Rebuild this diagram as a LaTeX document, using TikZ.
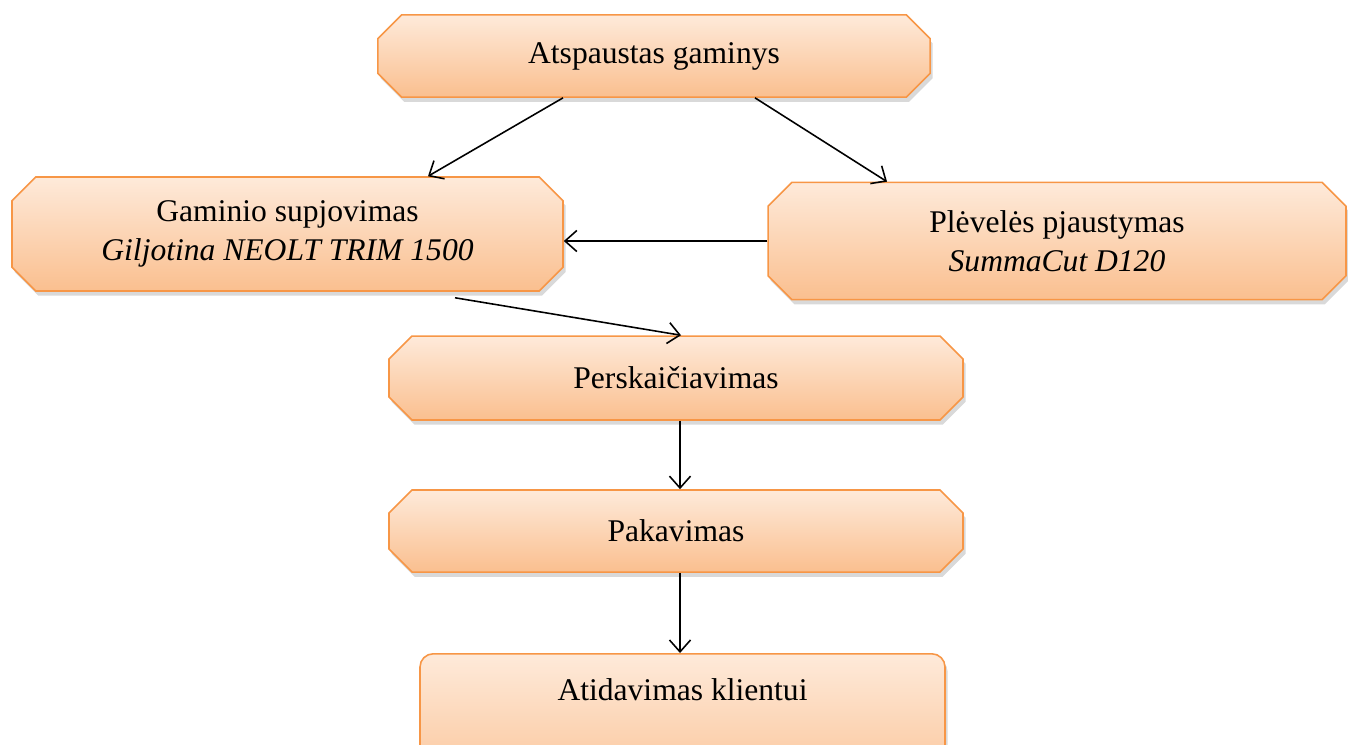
\documentclass[tikz,border=0pt]{standalone}
\usepackage{fontspec}
\setmainfont{Liberation Serif}
\usetikzlibrary{arrows.meta,calc,shapes.misc,shadows}
\definecolor{boxline}{RGB}{247,150,70}
\definecolor{boxtop}{RGB}{254,234,218}
\definecolor{boxbottom}{RGB}{250,191,143}

\begin{document}
\begin{tikzpicture}
    [ x=0.38pt, y=-0.38pt
    , stage/.style={chamfered rectangle, chamfered rectangle xsep=4.5pt,
        chamfered rectangle ysep=4.5pt, draw=boxline, line width=0.6pt,
        top color=boxtop, bottom color=boxbottom,
        drop shadow={shadow xshift=1pt, shadow yshift=-1.8pt, opacity=0.3},
        font=\fontsize{12}{15}\selectfont, align=center, inner sep=0pt}
    , lastbox/.style={stage, rectangle, rounded corners=5pt}
    , flow/.style={-{Straight Barb[length=4.5pt,width=8pt]}, line width=0.6pt}
    ]
  \useasboundingbox (0,0) rectangle (1348,744);
  \clip (0,0) rectangle (1348,744);

  \node (top) [stage, minimum width=209.8pt, minimum height=31.2pt]
    at (654,56) {Atspaustas gaminys};
  \node (cut) [stage, minimum width=209.4pt, minimum height=43.3pt]
    at (287.5,234) {Gaminio supjovimas\\ \textit{Giljotina NEOLT TRIM 1500}};
  \node (film) [stage, minimum width=219.6pt, minimum height=44.5pt]
    at (1057,241) {Plėvelės pjaustymas\\ \textit{SummaCut D120}};
  \node (recount) [stage, minimum width=218.1pt, minimum height=31.9pt]
    at (676,378) {Perskaičiavimas};
  \node (pack) [stage, minimum width=218.1pt, minimum height=31.2pt]
    at (676,531) {Pakavimas};
  \node (handover) [lastbox, minimum width=199.5pt, anchor=north,
      text height=17.9pt, text depth=40pt]
    at (682.5,653) {Atidavimas klientui};

  % connectors
  \draw [flow] ($(top.south)+(-91,0)$) -- ($(cut.north)+(140.5,0)$);
  \draw [flow] ($(top.south)+(101,0)$) -- ($(film.north)+(-170,0)$);
  \draw [flow] (film.west) -- (film.west -| cut.east);
  \draw [flow] ($(cut.south)+(167.5,6)$) -- ($(recount.north)+(5,0)$);
  \draw [flow] ($(recount.south)+(4,0)$) -- ($(pack.north)+(4,0)$);
  \draw [flow] ($(pack.south)+(4,0)$) -- ($(handover.north)+(-2.5,0)$);
\end{tikzpicture}
\end{document}
